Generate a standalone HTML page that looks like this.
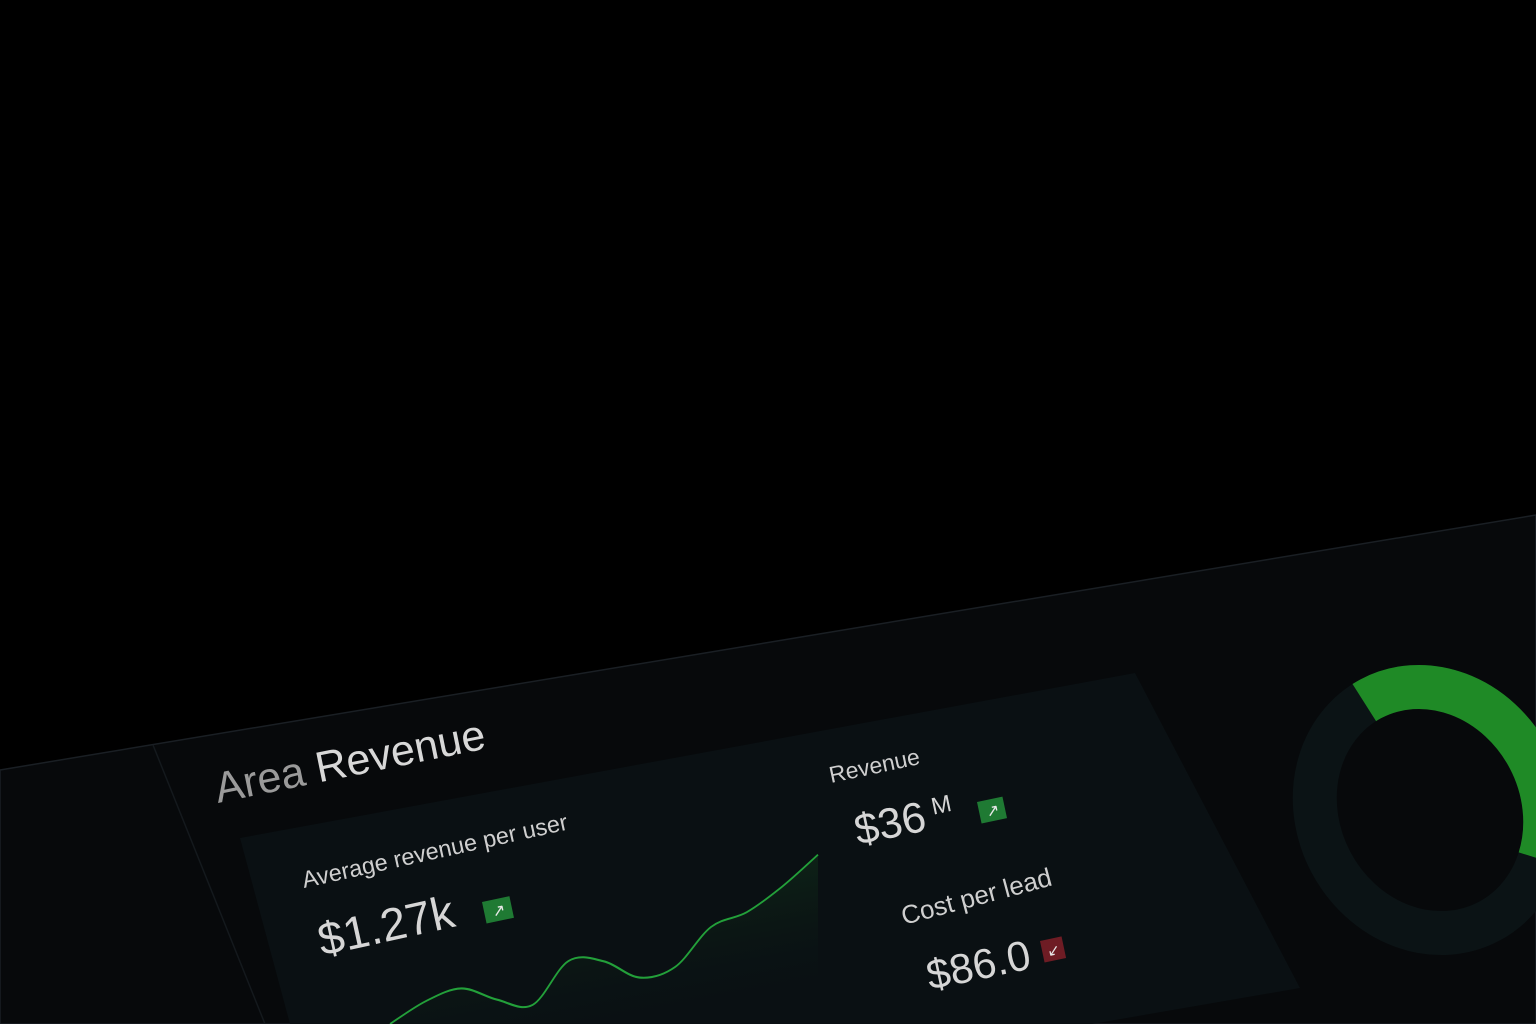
<!DOCTYPE html>
<html><head><meta charset="utf-8"><style>
html,body{margin:0;padding:0;background:#000;width:1536px;height:1024px;overflow:hidden;}
svg{display:block}
text{font-family:"Liberation Sans",sans-serif;}
</style></head><body>
<svg width="1536" height="1024" viewBox="0 0 1536 1024" overflow="hidden">
<defs>
<linearGradient id="areaFill" x1="0" y1="0" x2="0" y2="1"><stop offset="0" stop-color="#0f2a18" stop-opacity="0.7"/><stop offset="1" stop-color="#0a1114" stop-opacity="0"/></linearGradient>
<clipPath id="frame"><rect width="1536" height="1024"/></clipPath>
</defs>
<g clip-path="url(#frame)">
<rect width="1536" height="1024" fill="#000"/>
<polygon points="0,770 1536,515 1536,1024 0,1024" fill="#07090b" stroke="#1a1f24" stroke-width="1.5"/>
<line x1="153" y1="745" x2="265" y2="1024" stroke="#14191d" stroke-width="1.5"/>
<polygon points="240,838 1135,673 1300,988 1092,1024 290,1024" fill="#0a1013"/>
<text transform="translate(218,803) rotate(-11.5)" font-size="43" fill="#9a9a9a">Area <tspan fill="#d8d8d8">Revenue</tspan></text>
<text transform="translate(304,888) rotate(-12.5)" font-size="23.5" fill="#cfcfcf">Average revenue per user</text>
<text transform="translate(322,956) rotate(-12.5)" font-size="46" fill="#d6d6d6">$1.27k</text>
<g transform="translate(482,902) rotate(-12)"><rect width="28" height="22" fill="#1f7a33"/><text x="8" y="17" font-size="16" fill="#e8e8e8">↗</text></g>
<text transform="translate(831,783) rotate(-12)" font-size="23" fill="#cfcfcf">Revenue</text>
<text transform="translate(858,845) rotate(-12)" font-size="43" fill="#d6d6d6">$36<tspan font-size="24" dx="8" dy="-14">M</tspan></text>
<g transform="translate(977,802) rotate(-12)"><rect width="26" height="22" fill="#1f7a33"/><text x="7" y="17" font-size="16" fill="#e8e8e8">↗</text></g>
<text transform="translate(904,925) rotate(-15)" font-size="26" fill="#cfcfcf">Cost per lead</text>
<text transform="translate(930,990) rotate(-12)" font-size="42" fill="#d6d6d6">$86.0</text>
<g transform="translate(1040,941) rotate(-12)"><rect width="22" height="22" fill="#6e1c24"/><text x="5" y="17" font-size="15" fill="#e8e8e8">↙</text></g>
<g id="chart" transform="matrix(1,-0.19,0,1,0,74.1)"></g>
<g id="donut" transform="translate(1430,810) rotate(-28)"></g>
</g>
</svg>
<script>
const periods=[0,1,2,3,4,5,6,7,8,9,10,11,12];
const arpuValues=[16,32,38,20,8,45,38,15,19,52,60,79,104];
const donutShare=[40,60];
const NS='http://www.w3.org/2000/svg';
const xS=i=>390+i*(428/12);
const yS=v=>1040-v;
const pts=periods.map((p,i)=>[xS(p),yS(arpuValues[i])]);
let d='M'+pts[0][0]+','+pts[0][1];
for(let i=0;i<pts.length-1;i++){
  const p0=pts[Math.max(0,i-1)],p1=pts[i],p2=pts[i+1],p3=pts[Math.min(pts.length-1,i+2)];
  const c1=[p1[0]+(p2[0]-p0[0])/6,p1[1]+(p2[1]-p0[1])/6];
  const c2=[p2[0]-(p3[0]-p1[0])/6,p2[1]-(p3[1]-p1[1])/6];
  d+=' C'+c1+' '+c2+' '+p2;
}
const chart=document.getElementById('chart');
const area=document.createElementNS(NS,'path');
area.setAttribute('d',d+' L'+pts[pts.length-1][0]+',1080 L'+pts[0][0]+',1080 Z');
area.setAttribute('fill','url(#areaFill)');


chart.appendChild(area);
const line=document.createElementNS(NS,'path');
line.setAttribute('d',d);
line.setAttribute('fill','none');
line.setAttribute('stroke','#23a03a');
line.setAttribute('stroke-width','2');


chart.appendChild(line);
const donut=document.getElementById('donut');
const track=document.createElementNS(NS,'ellipse');
track.setAttribute('rx','112');track.setAttribute('ry','126');
track.setAttribute('fill','none');track.setAttribute('stroke','#0b1315');track.setAttribute('stroke-width','44');


donut.appendChild(track);
const arc=document.createElementNS(NS,'ellipse');
arc.setAttribute('rx','112');arc.setAttribute('ry','126');
arc.setAttribute('pathLength','100');
arc.setAttribute('fill','none');arc.setAttribute('stroke','#1f8a26');arc.setAttribute('stroke-width','44');
arc.setAttribute('stroke-dasharray',donutShare[0]+' '+donutShare[1]);
arc.setAttribute('stroke-dashoffset','26');


donut.appendChild(arc);
</script>
</body></html>
